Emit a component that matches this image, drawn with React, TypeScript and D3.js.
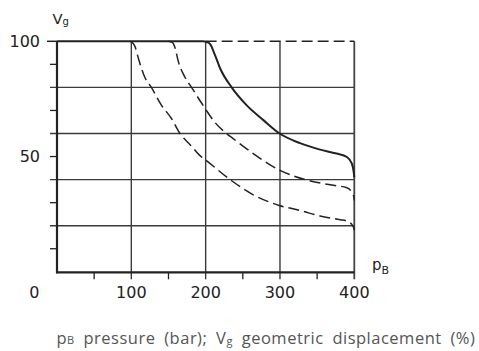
import React from "react";
import * as d3 from "d3";

// ---- data ----
const xLabelTicks: number[] = [0, 100, 200, 300, 400];
const yLabelTicks: number[] = [100, 50];
const xGrid: number[] = [100, 200, 300, 400];
const yGrid: number[] = [20, 40, 60, 80];
const xMinor: number[] = [50, 150, 250, 350];
const yMinor: number[] = [10, 30, 50, 70, 90];

// curve A: lowest dashed (regulation start ~100 bar)
const curveA: [number, number][] = [
  [98, 100], [102, 99.3], [105, 97.7], [109.5, 92.6], [118, 84.5], [127, 80],
  [140, 72.5], [154, 66.5], [165.5, 60], [180, 54.8], [192, 50.5], [200, 48.5],
  [235, 39.5], [264, 33.4], [299, 28.8], [327, 26.6], [354, 24.2], [381, 22.6],
  [390, 22], [396.5, 20.6], [399.5, 18.8], [400, 18],
];
// curve B: middle dashed (regulation start ~150 bar)
const curveB: [number, number][] = [
  [150, 100], [155, 99.5], [159, 97], [163, 91.5], [172, 84.5], [181, 80],
  [199, 71], [212, 65], [226, 60.5], [237, 57.8], [264, 51.3], [299, 44.2],
  [336, 39.8], [372, 37.5], [390, 36.5], [396.5, 34.6], [399.5, 32.2], [400, 31],
];
// curve C: solid (regulation start ~200 bar)
const curveC: [number, number][] = [
  [0, 100], [196, 100], [202, 99.6], [206, 98.8], [212.6, 94], [219.4, 88.3],
  [235, 80], [255, 72.3], [277.7, 65.8], [299, 60.1], [327, 55.8], [354, 53],
  [376, 51.3], [390, 49.8], [396.6, 47], [399.3, 43], [400, 41],
];
// maximum displacement line (dashed part beyond 200 bar)
const maxLine: [number, number][] = [
  [200, 100], [400, 100],
];

const W = 479;
const H = 351;

export default function App() {
  const x = d3.scaleLinear().domain([0, 400]).range([57, 354.3]);
  const y = d3.scaleLinear().domain([0, 100]).range([271.8, 41.3]);
  const line = d3
    .line<[number, number]>()
    .x((d) => x(d[0]))
    .y((d) => y(d[1]))
    .curve(d3.curveMonotoneX);
  const straight = d3
    .line<[number, number]>()
    .x((d) => x(d[0]))
    .y((d) => y(d[1]));

  const axisY = 272.3;
  const ink = "#222";
  const grid = "#3a3a3a";
  const numFont = "'DejaVu Sans', sans-serif";

  return (
    <svg
      width={W}
      height={H}
      viewBox={`0 0 ${W} ${H}`}
      style={{ position: "absolute", left: 0, top: 0, background: "#fff" }}
    >
      {/* horizontal grid lines */}
      {yGrid.map((v) => (
        <line key={"hg" + v} x1={50} x2={x(400)} y1={y(v)} y2={y(v)} stroke={grid} strokeWidth={1.4} />
      ))}
      {/* left minor ticks */}
      {yMinor.map((v) => (
        <line key={"ym" + v} x1={50} x2={x(0)} y1={y(v)} y2={y(v)} stroke={ink} strokeWidth={1.3} />
      ))}
      {/* 100 tick */}
      <line x1={47} x2={x(0)} y1={y(100)} y2={y(100)} stroke={ink} strokeWidth={1.5} />
      {/* vertical grid lines */}
      {xGrid.map((p) => (
        <line
          key={"vg" + p}
          x1={x(p)}
          x2={x(p)}
          y1={y(100)}
          y2={279.3}
          stroke={p === 400 ? "#444" : grid}
          strokeWidth={p === 400 ? 1.8 : 1.4}
        />
      ))}
      {/* bottom minor ticks */}
      {xMinor.map((p) => (
        <line key={"xm" + p} x1={x(p)} x2={x(p)} y1={axisY} y2={279.3} stroke={ink} strokeWidth={1.3} />
      ))}
      {/* axes */}
      <line x1={x(0)} x2={x(0)} y1={y(100)} y2={axisY + 1} stroke={ink} strokeWidth={2.2} />
      <line x1={x(0) - 1} x2={x(400)} y1={axisY} y2={axisY} stroke={ink} strokeWidth={2.2} />

      {/* max displacement dashed line */}
      <path d={straight(maxLine) || ""} fill="none" stroke={ink} strokeWidth={1.5} strokeDasharray="11,5" />

      {/* curves */}
      <path d={line(curveA) || ""} fill="none" stroke={ink} strokeWidth={1.5} strokeDasharray="11,5" />
      <path d={line(curveB) || ""} fill="none" stroke={ink} strokeWidth={1.5} strokeDasharray="11,5" />
      <path d={line(curveC) || ""} fill="none" stroke={ink} strokeWidth={2} />

      {/* tick labels */}
      {xLabelTicks.map((p) => (
        <text
          key={"xl" + p}
          x={p === 0 ? x(0) - 22.7 : x(p)}
          y={298.3}
          textAnchor="middle"
          fontFamily={numFont}
          fontSize={16}
          fill={ink}
        >
          {p}
        </text>
      ))}
      {yLabelTicks.map((v) => (
        <text
          key={"yl" + v}
          x={40}
          y={y(v) + 5.8}
          textAnchor="end"
          fontFamily={numFont}
          fontSize={16}
          fill={ink}
        >
          {v}
        </text>
      ))}

      {/* axis titles */}
      <text x={52.5} y={24} fontFamily={numFont} fontSize={14.7} fill={ink}>
        V
        <tspan fontSize={10} dy={1}>g</tspan>
      </text>
      <text x={372} y={270} fontFamily={numFont} fontSize={15} fill={ink}>
        p
        <tspan fontSize={11} dy={4}>B</tspan>
      </text>

      {/* caption */}
      <text
        x={56.5}
        y={343.5}
        fontFamily="'Open Sans', sans-serif"
        fontSize={16.5}
        fill="#555"
        style={{ wordSpacing: "4px", letterSpacing: "0.5px" }}
      >
        p
        <tspan fontSize={11}>B</tspan>
        <tspan> pressure (bar); V</tspan>
        <tspan fontSize={11} dy={1}>g</tspan>
        <tspan dy={-1}> geometric displacement (%)</tspan>
      </text>
    </svg>
  );
}
